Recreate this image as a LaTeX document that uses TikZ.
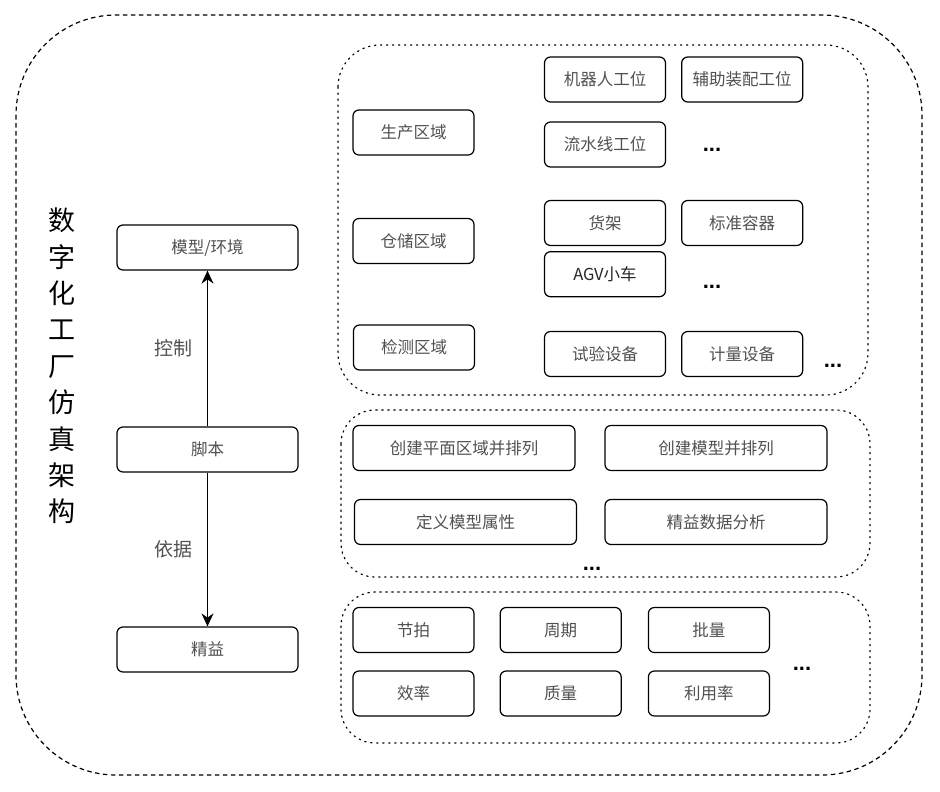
\documentclass[tikz,border=0pt]{standalone}
\usepackage{fontspec}
\setmainfont{Noto Sans CJK SC}
\newfontfamily\dotfont{Liberation Sans}
\usepackage{tikz}
\usetikzlibrary{arrows.meta,positioning}
\usepackage{xcolor}
\definecolor{txtgray}{RGB}{80,80,80}
\tikzstyle{unit} = [rectangle, rounded corners=6pt, minimum width=121pt, minimum height=45pt, inner sep=0pt, text centered, draw=black, line width=1.2pt, text=txtgray, font=\fontsize{16.5}{18}\selectfont]
\tikzstyle{wide} = [unit, minimum width=222pt]
\tikzstyle{side} = [unit, minimum width=181pt]
\tikzstyle{etcdots} = [inner sep=0pt, anchor=base, font=\dotfont\bfseries\fontsize{22}{24}\selectfont]
\tikzstyle{group} = [line width=1.2pt, dash pattern=on 1.4pt off 4.6pt, line cap=round]
\tikzstyle{edgelabel} = [left=11pt, text=txtgray, font=\fontsize{19}{20}\selectfont]

\begin{document}
\begin{tikzpicture}[x=1pt, y=-1pt]
\useasboundingbox (0,0) rectangle (940,792);
% frames
\draw[line width=1.2pt, dash pattern=on 4.5pt off 3.5pt, rounded corners=100pt] (16,15) rectangle (922,775);
\draw[group, rounded corners=42pt] (338,45) rectangle (868,395);
\draw[group, rounded corners=34pt] (341,410) rectangle (870,577);
\draw[group, rounded corners=34pt] (341,592) rectangle (870,743);
% title
\node (title) at (62,366) [align=center, font=\fontsize{27}{36.4}\selectfont] {数\\字\\化\\工\\厂\\仿\\真\\架\\构};
% left column
\node (model) [side] at (207.5,247.5) {模型/环境};
\node (script) [side] at (207.5,449.5) {脚本};
\node (lean) [side] at (207.5,649.5) {精益};
\draw[line width=1.3pt, -{Stealth[length=13pt,width=12pt]}] (script) -- node[edgelabel] {控制} (model);
\draw[line width=1.3pt, -{Stealth[length=13pt,width=12pt]}] (script) -- node[edgelabel] {依据} (lean);
% areas
\node (prod) [unit] at (413.5,132.5) {生产区域};
\node (store) [unit] at (413.5,241) {仓储区域};
\node (check) [unit] at (414,347.5) {检测区域};
\node (robot) [unit] at (605,79.5) {机器人工位};
\node (assist) [unit, right=15pt of robot] {辅助装配工位};
\node (flow) [unit] at (605,144.5) {流水线工位};
\node (etc1) [etcdots] at (712,151) {...};
\node (shelf) [unit] at (605,223) {货架};
\node (box) [unit, right=15pt of shelf] {标准容器};
\node (agv) [unit, below=5pt of shelf, text=black!85] {AGV小车};
\node (etc2) [etcdots] at (712,288) {...};
\node (test) [unit] at (605,354) {试验设备};
\node (measure) [unit, right=15pt of test] {计量设备};
\node (etc3) [etcdots] at (833,367) {...};
% steps
\node (plane) [wide] at (464,448) {创建平面区域并排列};
\node (place) [wide] at (716,448) {创建模型并排列};
\node (attr) [wide] at (465.5,522) {定义模型属性};
\node (analyse) [wide] at (716,522) {精益数据分析};
\node (etc4) [etcdots] at (592,570) {...};
% indicators
\node (beat) [unit] at (413.5,630) {节拍};
\node (cycle) [unit, right=25pt of beat] {周期};
\node (batch) [unit, right=26pt of cycle] {批量};
\node (eff) [unit] at (413.5,693.5) {效率};
\node (quality) [unit, right=25pt of eff] {质量};
\node (usage) [unit, right=26pt of quality] {利用率};
\node (etc5) [etcdots] at (802,670) {...};
\end{tikzpicture}
\end{document}
